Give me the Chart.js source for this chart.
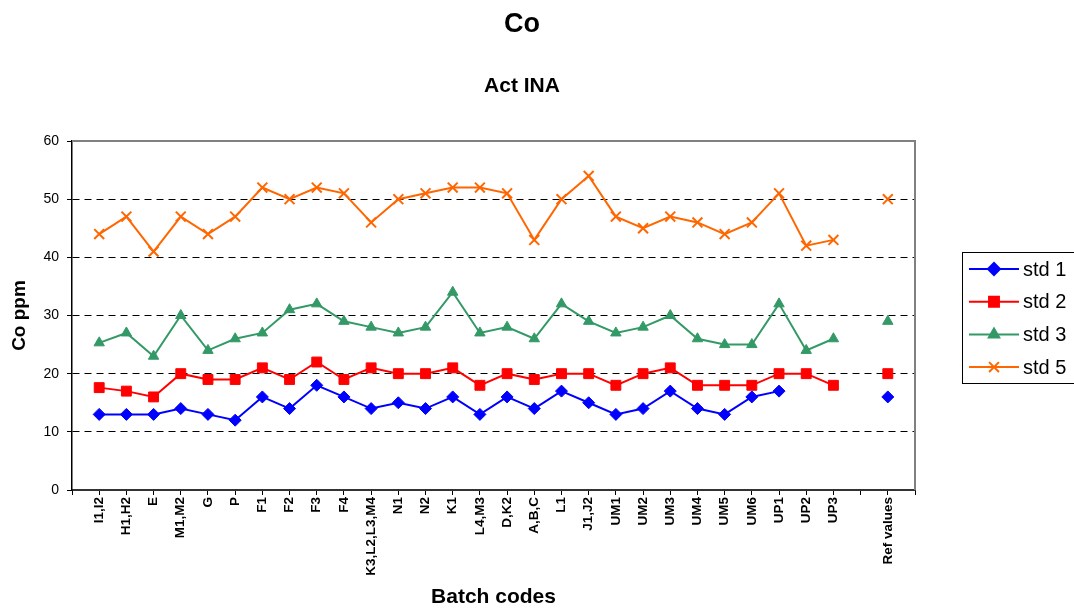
<!DOCTYPE html>
<html>
<head>
<meta charset="utf-8">
<title>Co - Act INA</title>
<script src="https://cdn.jsdelivr.net/npm/chart.js@4.4.1/dist/chart.umd.min.js"></script>
<style>
    html, body { margin: 0; padding: 0; background: #fff; }
    #wrap { width: 1074px; height: 610px; position: relative; }
</style>
</head>
<body>
<div id="wrap"><canvas id="coChart"></canvas></div>
<script>
// Batch codes (blank slots at both ends and before the reference values)
const batchCodes = [
    '', 'I1,I2', 'H1,H2', 'E', 'M1,M2', 'G', 'P', 'F1', 'F2', 'F3', 'F4',
    'K3,L2,L3,M4', 'N1', 'N2', 'K1', 'L4,M3', 'D,K2', 'A,B,C', 'L1', 'J1,J2',
    'UM1', 'UM2', 'UM3', 'UM4', 'UM5', 'UM6', 'UP1', 'UP2', 'UP3', '', 'Ref values', ''
];

// Co ppm per standard
const std1 = [null, 13, 13, 13, 14, 13, 12, 16, 14, 18, 16, 14, 15, 14, 16, 13, 16, 14, 17, 15,
    13, 14, 17, 14, 13, 16, 17, null, null, null, 16, null];
const std2 = [null, 17.6, 17, 16, 20, 19, 19, 21, 19, 22, 19, 21, 20, 20, 21, 18, 20, 19, 20, 20,
    18, 20, 21, 18, 18, 18, 20, 20, 18, null, 20, null];
const std3 = [null, 25.3, 27, 23, 30, 24, 26, 27, 31, 32, 29, 28, 27, 28, 34, 27, 28, 26, 32, 29,
    27, 28, 30, 26, 25, 25, 32, 24, 26, null, 29, null];
const std5 = [null, 44, 47, 41, 47, 44, 47, 52, 50, 52, 51, 46, 50, 51, 52, 52, 51, 43, 50, 54,
    47, 45, 47, 46, 44, 46, 51, 42, 43, null, 50, null];

const yTicks = [0, 10, 20, 30, 40, 50, 60];

const FONT = "'Liberation Sans', Arial, sans-serif";

// gray frame on the top and right of the plot area
const plotFrame = {
    id: 'plotFrame',
    beforeDatasetsDraw(chart) {
        const { ctx, chartArea: a } = chart;
        ctx.save();
        ctx.strokeStyle = '#808080';
        ctx.lineWidth = 2;
        ctx.beginPath();
        ctx.moveTo(a.left, a.top);
        ctx.lineTo(a.right, a.top);
        ctx.lineTo(a.right, a.bottom);
        ctx.stroke();
        ctx.restore();
    }
};

// legend box on the right: line + marker + label
const sideLegend = {
    id: 'sideLegend',
    afterDraw(chart) {
        const ctx = chart.ctx;
        ctx.save();
        ctx.strokeStyle = '#000';
        ctx.lineWidth = 1;
        ctx.strokeRect(962.5, 252.5, 115, 131);
        chart.data.datasets.forEach((ds, i) => {
            const y = 269 + i * 32.7;
            ctx.strokeStyle = ds.borderColor;
            ctx.fillStyle = ds.backgroundColor;
            ctx.lineWidth = 2;
            ctx.beginPath();
            ctx.moveTo(969, y);
            ctx.lineTo(1019, y);
            ctx.stroke();
            Chart.helpers.drawPoint(ctx, {
                pointStyle: ds.pointStyle,
                radius: ds.pointRadius,
                rotation: 0,
                borderWidth: ds.pointBorderWidth
            }, 994, y);
            ctx.fillStyle = '#000';
            ctx.font = '20px ' + FONT;
            ctx.textBaseline = 'middle';
            ctx.textAlign = 'left';
            ctx.fillText(ds.label, 1023, y + 1);
        });
        ctx.restore();
    }
};

function series(label, data, color, style, radius, bw) {
    return {
        label: label,
        data: data,
        borderColor: color,
        backgroundColor: color,
        borderWidth: 2,
        pointStyle: style,
        pointRadius: radius,
        pointHoverRadius: radius,
        pointBorderWidth: bw,
        pointBackgroundColor: color,
        pointBorderColor: color,
        spanGaps: false,
        tension: 0
    };
}

const ctx = document.getElementById('coChart').getContext('2d');
new Chart(ctx, {
    type: 'line',
    data: {
        labels: batchCodes,
        datasets: [
            series('std 1', std1, '#0000FF', 'rectRot', 6, 1),
            series('std 2', std2, '#FF0000', 'rect', 7, 1),
            series('std 3', std3, '#339966', 'triangle', 6, 1),
            series('std 5', std5, '#FF6600', 'crossRot', 7, 2)
        ]
    },
    options: {
        responsive: true,
        maintainAspectRatio: false,
        animation: false,
        layout: { padding: { left: 0, right: 30, top: 0, bottom: 0 } },
        scales: {
            x: {
                offset: false,
                afterFit: s => { s.height = 120; },
                grid: { display: true, drawOnChartArea: false, drawTicks: true, tickLength: 5, color: '#000', offset: false },
                border: { color: '#333', width: 2 },
                ticks: {
                    autoSkip: false,
                    minRotation: 90,
                    maxRotation: 90,
                    padding: 2,
                    color: '#000',
                    font: { family: FONT, size: 13.5, weight: 'bold' }
                },
                title: {
                    display: true,
                    text: 'Batch codes',
                    color: '#000',
                    font: { family: FONT, size: 21, weight: 'bold' },
                    padding: { top: 0, bottom: 0 }
                }
            },
            y: {
                min: 0,
                max: 60,
                afterFit: s => { s.width = 72; },
                afterBuildTicks: s => { s.ticks = yTicks.map(v => ({ value: v })); },
                grid: {
                    color: c => (c.tick && (c.tick.value === 0 || c.tick.value === 60)) ? 'rgba(0,0,0,0)' : '#000',
                    tickColor: '#000',
                    tickLength: 5,
                    lineWidth: 1
                },
                border: { color: '#000', width: 1.5, dash: [7, 5] },
                ticks: {
                    padding: 8,
                    color: '#000',
                    font: { family: FONT, size: 14 }
                },
                title: {
                    display: true,
                    text: 'Co ppm',
                    color: '#000',
                    font: { family: FONT, size: 19, weight: 'bold' },
                    padding: { top: 8.6, bottom: 0 }
                }
            },
            yR: {
                position: 'right',
                display: true,
                afterFit: s => { s.width = 129; },
                grid: { display: false },
                border: { display: false },
                ticks: { display: false }
            }
        },
        plugins: {
            legend: { display: false },
            tooltip: { enabled: false },
            title: {
                display: true,
                text: 'Co',
                color: '#000',
                font: { family: FONT, size: 27, weight: 'bold' },
                padding: { top: 8.8, bottom: 0 }
            },
            subtitle: {
                display: true,
                text: 'Act INA',
                color: '#000',
                font: { family: FONT, size: 21, weight: 'bold' },
                padding: { top: 32.2, bottom: 42.4 }
            }
        }
    },
    plugins: [plotFrame, sideLegend]
});
</script>
</body>
</html>
